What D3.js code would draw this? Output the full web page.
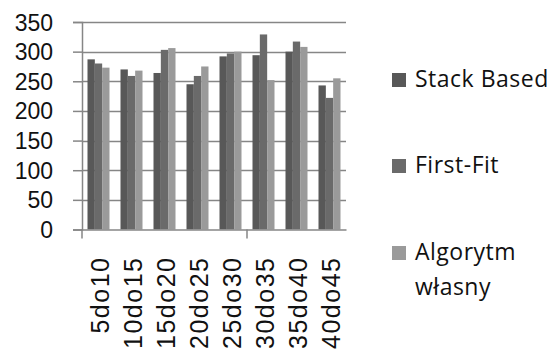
<!DOCTYPE html>
<html>
<head>
<meta charset="utf-8">
<script src="https://cdn.jsdelivr.net/npm/d3@7"></script>
<style>
  body { margin: 0; background: #fff; }
  svg { display: block; font-family: 'Open Sans', sans-serif; }
</style>
</head>
<body>
<svg id="chart" width="551" height="349"></svg>
<script>
const categories = ['5do10', '10do15', '15do20', '20do25', '25do30', '30do35', '35do40', '40do45'];
const seriesNames = ['Stack Based', 'First-Fit', 'Algorytm własny'];
const stackBased = [287, 270, 264, 245, 292, 294, 300, 243];
const firstFit = [280, 259, 303, 259, 297, 329, 317, 222];
const algorytm = [273, 268, 306, 275, 300, 252, 308, 255];
const yTicks = [0, 50, 100, 150, 200, 250, 300, 350];
const colors = ['#585858', '#6a6a6a', '#9a9a9a'];

const series = [stackBased, firstFit, algorytm];
const margin = {top: 22, left: 82, right: 205, bottom: 119.5};
const width = 551, height = 349;
const innerW = width - margin.left - margin.right;
const innerH = height - margin.top - margin.bottom;

const svg = d3.select('#chart');
const g = svg.append('g').attr('transform', `translate(${margin.left},${margin.top})`);

const x = d3.scaleBand().domain(categories).range([0, innerW]).paddingInner(0).paddingOuter(0);
const xInner = d3.scaleBand().domain(d3.range(3)).range([0, x.bandwidth()]).paddingInner(0).paddingOuter(0.75);
const y = d3.scaleLinear().domain([0, 350]).range([innerH, 0]);

// gridlines
g.append('g')
  .selectAll('line')
  .data(yTicks.filter(d => d > 0))
  .join('line')
  .attr('x1', 0).attr('x2', innerW)
  .attr('y1', d => Math.round(y(d)) + 0.5).attr('y2', d => Math.round(y(d)) + 0.5)
  .attr('stroke', '#868686').attr('stroke-width', 1.5);

// bars
categories.forEach((c, i) => {
  g.append('g')
    .selectAll('rect')
    .data(series.map((s, k) => ({k, v: s[i]})))
    .join('rect')
    .attr('x', d => x(c) + xInner(d.k))
    .attr('width', xInner.bandwidth())
    .attr('y', d => y(d.v))
    .attr('height', d => y(0) - y(d.v))
    .attr('fill', d => colors[d.k]);
});

// y axis
const yAxis = g.append('g')
  .call(d3.axisLeft(y).tickValues(yTicks).tickSize(9).tickPadding(20));
yAxis.select('.domain').attr('stroke', '#868686').attr('stroke-width', 1.5);
yAxis.selectAll('.tick line').attr('stroke', '#868686').attr('stroke-width', 1.5);
yAxis.selectAll('.tick text').attr('font-size', 23).attr('fill', '#111').attr('dy', '0.35em');

// x axis
const xAxis = g.append('g')
  .attr('transform', `translate(0,${innerH})`)
  .call(d3.axisBottom(x).tickSize(0).tickPadding(0));
xAxis.select('.domain').attr('stroke', '#868686').attr('stroke-width', 1.5);
xAxis.selectAll('.tick text')
  .attr('font-size', 25).attr('fill', '#111')
  .attr('letter-spacing', 1.5)
  .attr('transform', 'rotate(-90)')
  .attr('text-anchor', 'end')
  .attr('x', -27).attr('y', 0).attr('dy', '0.4em');

// category tick marks (every 5 categories)
g.append('g')
  .selectAll('line')
  .data([0, 5])
  .join('line')
  .attr('x1', d => x(categories[d])).attr('x2', d => x(categories[d]))
  .attr('y1', innerH).attr('y2', innerH + 9)
  .attr('stroke', '#868686').attr('stroke-width', 1.5);

// legend
const legendY = [87, 173, 260];
const legend = svg.append('g');
seriesNames.forEach((name, i) => {
  const lg = legend.append('g').attr('transform', `translate(392,${legendY[i]})`);
  lg.append('rect').attr('x', 0).attr('y', -14).attr('width', 14).attr('height', 14)
    .attr('fill', colors[i]);
  const t = lg.append('text').attr('x', 23).attr('y', 0)
    .attr('font-size', 23).attr('letter-spacing', 0.5).attr('fill', '#111');
  if (name === 'Algorytm własny') {
    t.append('tspan').attr('x', 23).text('Algorytm');
    t.append('tspan').attr('x', 23).attr('dy', 35).text('własny');
  } else {
    t.text(name);
  }
});
</script>
</body>
</html>
